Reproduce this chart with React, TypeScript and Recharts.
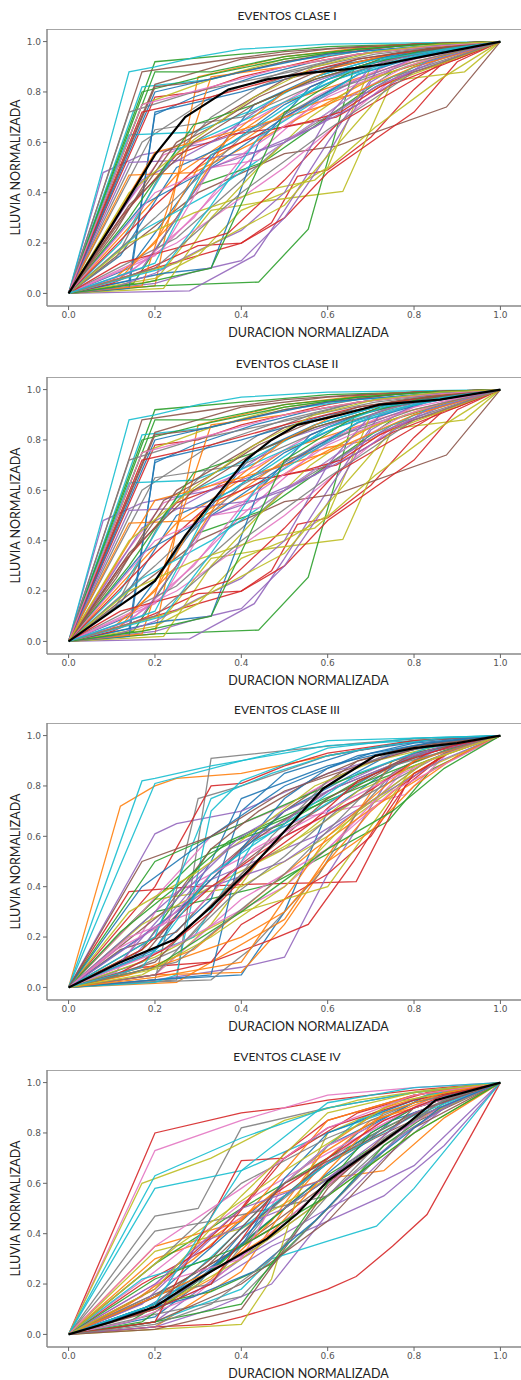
import { LineChart, Line, XAxis, YAxis, ReferenceLine } from 'recharts';

const ticks = [0, 0.2, 0.4, 0.6, 0.8, 1.0];
const tab10 = ['#1f77b4', '#ff7f0e', '#2ca02c', '#d62728', '#9467bd', '#8c564b', '#e377c2', '#7f7f7f', '#bcbd22', '#17becf'];

// cada evento: [duracion normalizada, lluvia normalizada]
const eventosClaseI: number[][][] = [
  [[0,0],[0.14,0.1],[0.29,0.45],[0.43,0.75],[0.57,0.86],[0.71,0.93],[0.86,0.97],[1,1]],
  [[0,0],[0.25,0.47],[0.5,0.76],[0.75,0.9],[1,1]],
  [[0,0],[0.2,0.92],[0.4,0.95],[0.6,0.98],[0.8,0.99],[1,1]],
  [[0,0],[0.2,0.1],[0.4,0.2],[0.47,0.28],[0.53,0.465],[0.6,0.49],[0.7,0.62],[0.8,0.81],[0.87,0.92],[1,1]],
  [[0,0],[0.08,0.48],[0.17,0.55],[0.33,0.6],[0.5,0.7],[0.67,0.85],[0.83,0.95],[1,1]],
  [[0,0],[0.17,0.88],[0.33,0.92],[0.5,0.96],[0.67,0.98],[0.83,0.99],[1,1]],
  [[0,0],[0.2,0.15],[0.4,0.5],[0.6,0.8],[0.8,0.95],[1,1]],
  [[0,0],[0.17,0.6],[0.33,0.78],[0.5,0.88],[0.67,0.95],[0.83,0.98],[1,1]],
  [[0,0],[0.2,0.05],[0.33,0.33],[0.47,0.37],[0.635,0.405],[0.75,0.845],[0.917,0.88],[1,1]],
  [[0,0],[0.14,0.88],[0.2,0.9],[0.3,0.94],[0.4,0.97],[0.6,0.99],[1,1]],

  [[0,0],[0.12,0.15],[0.25,0.5],[0.38,0.6],[0.5,0.75],[0.62,0.85],[0.75,0.93],[0.88,0.97],[1,1]],
  [[0,0],[0.2,0.03],[0.3,0.86],[0.4,0.9],[0.5,0.94],[0.6,0.96],[0.7,0.98],[0.8,0.99],[1,1]],
  [[0,0],[0.2,0.03],[0.44,0.045],[0.555,0.255],[0.66,0.89],[0.75,0.95],[0.87,0.98],[1,1]],
  [[0,0],[0.2,0.78],[0.3,0.8],[0.4,0.86],[0.5,0.9],[0.6,0.94],[0.7,0.97],[0.8,0.99],[1,1]],
  [[0,0],[0.28,0.01],[0.43,0.15],[0.5,0.33],[0.6,0.6],[0.72,0.9],[0.86,0.97],[1,1]],
  [[0,0],[0.15,0.2],[0.3,0.4],[0.5,0.555],[0.62,0.585],[0.875,0.74],[1,1]],
  [[0,0],[0.11,0.3],[0.22,0.55],[0.33,0.62],[0.44,0.7],[0.56,0.82],[0.67,0.9],[0.78,0.95],[0.89,0.98],[1,1]],
  [[0,0],[0.2,0.65],[0.4,0.7],[0.6,0.85],[0.8,0.95],[1,1]],
  [[0,0],[0.17,0.75],[0.33,0.85],[0.5,0.93],[0.67,0.97],[0.83,0.99],[1,1]],
  [[0,0],[0.17,0.82],[0.33,0.85],[0.5,0.92],[0.67,0.96],[0.83,0.98],[1,1]],

  [[0,0],[0.14,0.05],[0.2,0.71],[0.29,0.78],[0.43,0.86],[0.57,0.92],[0.71,0.96],[0.86,0.98],[1,1]],
  [[0,0],[0.1,0.05],[0.2,0.2],[0.3,0.5],[0.4,0.6],[0.5,0.72],[0.6,0.77],[0.7,0.8],[0.8,0.9],[0.9,0.95],[1,1]],
  [[0,0],[0.15,0.04],[0.3,0.43],[0.45,0.52],[0.6,0.7],[0.75,0.88],[0.9,0.96],[1,1]],
  [[0,0],[0.12,0.3],[0.25,0.55],[0.37,0.63],[0.5,0.66],[0.62,0.7],[0.75,0.83],[0.87,0.91],[1,1]],
  [[0,0],[0.17,0.45],[0.33,0.6],[0.5,0.8],[0.67,0.9],[0.83,0.96],[1,1]],
  [[0,0],[0.2,0.83],[0.4,0.93],[0.6,0.97],[0.8,0.99],[1,1]],
  [[0,0],[0.14,0.08],[0.29,0.3],[0.43,0.6],[0.57,0.78],[0.71,0.9],[0.86,0.96],[1,1]],
  [[0,0],[0.25,0.22],[0.5,0.6],[0.75,0.86],[1,1]],
  [[0,0],[0.2,0.06],[0.3,0.15],[0.4,0.33],[0.5,0.4],[0.6,0.5],[0.7,0.9],[0.8,0.96],[0.9,0.98],[1,1]],
  [[0,0],[0.14,0.63],[0.29,0.64],[0.43,0.73],[0.57,0.86],[0.71,0.93],[0.86,0.97],[1,1]],

  [[0,0],[0.22,0.08],[0.33,0.1],[0.44,0.6],[0.56,0.82],[0.67,0.9],[0.78,0.95],[0.89,0.98],[1,1]],
  [[0,0],[0.14,0.47],[0.29,0.48],[0.43,0.6],[0.57,0.73],[0.71,0.86],[0.86,0.94],[1,1]],
  [[0,0],[0.17,0.8],[0.33,0.87],[0.5,0.93],[0.67,0.97],[0.83,0.99],[1,1]],
  [[0,0],[0.1,0.04],[0.2,0.11],[0.3,0.19],[0.4,0.2],[0.5,0.3],[0.6,0.48],[0.7,0.6],[0.8,0.72],[0.9,0.92],[1,1]],
  [[0,0],[0.2,0.04],[0.3,0.09],[0.4,0.13],[0.5,0.3],[0.6,0.55],[0.7,0.84],[0.8,0.94],[0.9,0.98],[1,1]],
  [[0,0],[0.2,0.82],[0.3,0.84],[0.4,0.88],[0.5,0.92],[0.6,0.95],[0.7,0.97],[0.8,0.99],[1,1]],
  [[0,0],[0.25,0.2],[0.5,0.5],[0.75,0.85],[1,1]],
  [[0,0],[0.11,0.14],[0.22,0.5],[0.33,0.7],[0.44,0.82],[0.56,0.9],[0.67,0.95],[0.78,0.97],[0.89,0.99],[1,1]],
  [[0,0],[0.22,0.02],[0.33,0.3],[0.44,0.5],[0.56,0.7],[0.67,0.83],[0.78,0.9],[0.89,0.96],[1,1]],
  [[0,0],[0.17,0.25],[0.33,0.4],[0.5,0.6],[0.67,0.8],[0.83,0.92],[1,1]],

  [[0,0],[0.14,0.02],[0.2,0.72],[0.4,0.8],[0.6,0.9],[0.8,0.96],[1,1]],
  [[0,0],[0.17,0.03],[0.33,0.86],[0.5,0.9],[0.67,0.95],[0.83,0.98],[1,1]],
  [[0,0],[0.2,0.88],[0.33,0.88],[0.5,0.94],[0.67,0.97],[0.83,0.99],[1,1]],
  [[0,0],[0.12,0.12],[0.25,0.18],[0.37,0.24],[0.5,0.45],[0.62,0.67],[0.75,0.8],[0.87,0.92],[1,1]],
  [[0,0],[0.14,0.52],[0.29,0.53],[0.43,0.56],[0.57,0.66],[0.71,0.82],[0.86,0.93],[1,1]],
  [[0,0],[0.25,0.6],[0.5,0.85],[0.75,0.95],[1,1]],
  [[0,0],[0.11,0.05],[0.22,0.18],[0.33,0.5],[0.44,0.53],[0.56,0.67],[0.67,0.8],[0.78,0.9],[0.89,0.96],[1,1]],
  [[0,0],[0.2,0.3],[0.4,0.62],[0.6,0.8],[0.8,0.92],[1,1]],
  [[0,0],[0.14,0.2],[0.29,0.32],[0.43,0.4],[0.57,0.45],[0.71,0.66],[0.86,0.85],[1,1]],
  [[0,0],[0.12,0.2],[0.25,0.57],[0.37,0.66],[0.5,0.76],[0.62,0.85],[0.75,0.92],[0.87,0.97],[1,1]],

  [[0,0],[0.17,0.35],[0.33,0.5],[0.5,0.7],[0.67,0.87],[0.83,0.95],[1,1]],
  [[0,0],[0.2,0.56],[0.4,0.65],[0.6,0.75],[0.8,0.9],[1,1]],
  [[0,0],[0.14,0.3],[0.29,0.67],[0.43,0.75],[0.57,0.85],[0.71,0.92],[0.86,0.97],[1,1]],
  [[0,0],[0.2,0.35],[0.33,0.55],[0.47,0.65],[0.55,0.68],[0.63,0.72],[0.72,0.82],[0.8,0.88],[0.9,0.93],[1,1]],
  [[0,0],[0.1,0.02],[0.2,0.08],[0.3,0.17],[0.4,0.25],[0.5,0.4],[0.6,0.7],[0.7,0.9],[0.8,0.96],[0.9,0.99],[1,1]],
  [[0,0],[0.14,0.35],[0.29,0.6],[0.43,0.75],[0.57,0.85],[0.71,0.92],[0.86,0.97],[1,1]],
  [[0,0],[0.2,0.4],[0.4,0.55],[0.6,0.78],[0.8,0.93],[1,1]],
  [[0,0],[0.14,0.72],[0.29,0.8],[0.43,0.85],[0.57,0.9],[0.71,0.95],[0.86,0.98],[1,1]],
  [[0,0],[0.25,0.12],[0.5,0.35],[0.75,0.84],[1,1]],
  [[0,0],[0.22,0.1],[0.33,0.35],[0.44,0.62],[0.56,0.75],[0.67,0.87],[0.78,0.93],[0.89,0.97],[1,1]],

  [[0,0],[0.2,0.8],[0.4,0.88],[0.6,0.95],[0.8,0.98],[1,1]],
  [[0,0],[0.12,0.06],[0.25,0.3],[0.37,0.62],[0.5,0.8],[0.62,0.9],[0.75,0.95],[0.87,0.98],[1,1]],
  [[0,0],[0.17,0.04],[0.33,0.1],[0.5,0.72],[0.67,0.9],[0.83,0.97],[1,1]],
  [[0,0],[0.17,0.72],[0.33,0.78],[0.5,0.86],[0.67,0.93],[0.83,0.97],[1,1]],
  [[0,0],[0.17,0.1],[0.33,0.5],[0.5,0.6],[0.67,0.75],[0.83,0.92],[1,1]],
  [[0,0],[0.11,0.25],[0.22,0.56],[0.33,0.66],[0.44,0.78],[0.56,0.87],[0.67,0.93],[0.78,0.96],[0.89,0.98],[1,1]],
  [[0,0],[0.17,0.75],[0.33,0.82],[0.5,0.9],[0.67,0.95],[0.83,0.98],[1,1]],
  [[0,0],[0.2,0.1],[0.4,0.4],[0.6,0.65],[0.8,0.88],[1,1]],
  [[0,0],[0.14,0.4],[0.29,0.61],[0.43,0.78],[0.57,0.9],[0.71,0.96],[0.86,0.99],[1,1]],
  [[0,0],[0.2,0.12],[0.33,0.55],[0.47,0.7],[0.6,0.85],[0.73,0.93],[0.87,0.97],[1,1]],
];

// la figura de clase II repite las mismas curvas individuales
const eventosClaseII = eventosClaseI;

const eventosClaseIII: number[][][] = [
  [[0,0],[0.2,0.03],[0.4,0.05],[0.5,0.3],[0.6,0.7],[0.8,0.93],[1,1]],
  [[0,0],[0.12,0.72],[0.2,0.8],[0.25,0.83],[0.4,0.85],[0.6,0.92],[0.8,0.98],[1,1]],
  [[0,0],[0.2,0.3],[0.4,0.38],[0.47,0.41],[0.74,0.66],[0.84,0.865],[1,1]],
  [[0,0],[0.14,0.38],[0.29,0.4],[0.43,0.41],[0.57,0.415],[0.666,0.42],[0.78,0.8],[0.89,0.95],[1,1]],
  [[0,0],[0.2,0.03],[0.4,0.08],[0.5,0.12],[0.6,0.45],[0.75,0.85],[0.87,0.96],[1,1]],
  [[0,0],[0.17,0.12],[0.33,0.45],[0.5,0.7],[0.67,0.9],[0.83,0.97],[1,1]],
  [[0,0],[0.11,0.06],[0.22,0.35],[0.33,0.45],[0.44,0.6],[0.56,0.68],[0.67,0.72],[0.78,0.766],[0.89,0.95],[1,1]],
  [[0,0],[0.17,0.02],[0.25,0.03],[0.33,0.91],[0.5,0.94],[0.67,0.97],[0.83,0.99],[1,1]],
  [[0,0],[0.2,0.35],[0.4,0.4],[0.6,0.6],[0.8,0.85],[1,1]],
  [[0,0],[0.17,0.82],[0.2,0.83],[0.33,0.88],[0.5,0.93],[0.6,0.96],[0.8,0.98],[1,1]],

  [[0,0],[0.17,0.1],[0.33,0.35],[0.4,0.7],[0.5,0.85],[0.67,0.94],[0.83,0.98],[1,1]],
  [[0,0],[0.2,0.05],[0.4,0.06],[0.5,0.25],[0.6,0.5],[0.7,0.7],[0.8,0.85],[0.9,0.95],[1,1]],
  [[0,0],[0.14,0.25],[0.29,0.5],[0.43,0.62],[0.57,0.72],[0.71,0.82],[0.86,0.92],[1,1]],
  [[0,0],[0.17,0.08],[0.33,0.1],[0.47,0.19],[0.555,0.25],[0.66,0.5],[0.77,0.8],[0.88,0.94],[1,1]],
  [[0,0],[0.2,0.61],[0.25,0.65],[0.4,0.7],[0.6,0.85],[0.8,0.95],[1,1]],
  [[0,0],[0.2,0.2],[0.4,0.55],[0.6,0.78],[0.8,0.92],[1,1]],
  [[0,0],[0.17,0.3],[0.33,0.6],[0.5,0.72],[0.67,0.88],[0.83,0.96],[1,1]],
  [[0,0],[0.2,0.03],[0.3,0.75],[0.4,0.8],[0.6,0.92],[0.8,0.98],[1,1]],
  [[0,0],[0.22,0.08],[0.33,0.25],[0.44,0.5],[0.56,0.62],[0.67,0.75],[0.78,0.88],[0.89,0.95],[1,1]],
  [[0,0],[0.2,0.81],[0.4,0.9],[0.6,0.98],[0.8,0.99],[1,1]],

  [[0,0],[0.2,0.15],[0.33,0.5],[0.4,0.75],[0.6,0.88],[0.8,0.96],[1,1]],
  [[0,0],[0.25,0.02],[0.5,0.27],[0.75,0.9],[1,1]],
  [[0,0],[0.17,0.15],[0.33,0.55],[0.5,0.65],[0.67,0.82],[0.83,0.94],[1,1]],
  [[0,0],[0.2,0.4],[0.33,0.8],[0.4,0.81],[0.5,0.88],[0.6,0.93],[0.8,0.98],[1,1]],
  [[0,0],[0.14,0.1],[0.29,0.4],[0.43,0.5],[0.57,0.6],[0.71,0.75],[0.86,0.9],[1,1]],
  [[0,0],[0.12,0.15],[0.25,0.22],[0.37,0.45],[0.5,0.62],[0.62,0.75],[0.75,0.88],[0.87,0.96],[1,1]],
  [[0,0],[0.2,0.05],[0.4,0.35],[0.6,0.55],[0.8,0.9],[1,1]],
  [[0,0],[0.17,0.02],[0.33,0.03],[0.42,0.15],[0.5,0.3],[0.58,0.45],[0.67,0.7],[0.75,0.85],[0.83,0.93],[1,1]],
  [[0,0],[0.17,0.25],[0.33,0.4],[0.5,0.55],[0.67,0.78],[0.83,0.9],[1,1]],
  [[0,0],[0.2,0.02],[0.25,0.05],[0.33,0.7],[0.4,0.82],[0.6,0.95],[0.8,0.99],[1,1]],

  [[0,0],[0.25,0.3],[0.5,0.7],[0.75,0.93],[1,1]],
  [[0,0],[0.14,0.05],[0.29,0.15],[0.43,0.35],[0.57,0.55],[0.71,0.72],[0.86,0.88],[1,1]],
  [[0,0],[0.2,0.5],[0.4,0.65],[0.6,0.8],[0.8,0.93],[1,1]],
  [[0,0],[0.2,0.05],[0.33,0.1],[0.4,0.25],[0.5,0.35],[0.6,0.45],[0.7,0.6],[0.8,0.85],[0.9,0.95],[1,1]],
  [[0,0],[0.17,0.2],[0.33,0.4],[0.5,0.5],[0.67,0.7],[0.83,0.9],[1,1]],
  [[0,0],[0.22,0.3],[0.33,0.55],[0.44,0.7],[0.56,0.82],[0.67,0.9],[0.78,0.95],[0.89,0.98],[1,1]],
  [[0,0],[0.11,0.15],[0.22,0.25],[0.33,0.45],[0.44,0.55],[0.56,0.65],[0.67,0.75],[0.78,0.88],[0.89,0.95],[1,1]],
  [[0,0],[0.12,0.05],[0.25,0.15],[0.37,0.35],[0.5,0.52],[0.62,0.7],[0.75,0.82],[0.87,0.93],[1,1]],
  [[0,0],[0.2,0.12],[0.4,0.3],[0.6,0.4],[0.8,0.88],[1,1]],
  [[0,0],[0.14,0.1],[0.29,0.2],[0.43,0.58],[0.57,0.7],[0.71,0.85],[0.86,0.95],[1,1]],

  [[0,0],[0.33,0.05],[0.4,0.55],[0.5,0.75],[0.6,0.87],[0.7,0.93],[0.8,0.97],[1,1]],
  [[0,0],[0.2,0.08],[0.4,0.2],[0.5,0.3],[0.6,0.5],[0.7,0.62],[0.8,0.8],[0.9,0.92],[1,1]],
  [[0,0],[0.12,0.22],[0.25,0.4],[0.37,0.58],[0.5,0.68],[0.62,0.77],[0.75,0.86],[0.87,0.94],[1,1]],
  [[0,0],[0.17,0.15],[0.33,0.4],[0.5,0.6],[0.67,0.75],[0.83,0.93],[1,1]],
  [[0,0],[0.2,0.3],[0.3,0.45],[0.4,0.6],[0.5,0.7],[0.6,0.78],[0.7,0.85],[0.8,0.92],[0.9,0.96],[1,1]],
  [[0,0],[0.2,0.1],[0.4,0.45],[0.6,0.75],[0.8,0.93],[1,1]],
  [[0,0],[0.25,0.17],[0.5,0.4],[0.75,0.78],[1,1]],
  [[0,0],[0.2,0.05],[0.33,0.3],[0.47,0.6],[0.6,0.82],[0.73,0.92],[0.87,0.97],[1,1]],
  [[0,0],[0.14,0.3],[0.29,0.45],[0.43,0.62],[0.57,0.8],[0.71,0.9],[0.86,0.96],[1,1]],
  [[0,0],[0.2,0.2],[0.33,0.75],[0.47,0.85],[0.6,0.92],[0.73,0.96],[0.87,0.99],[1,1]],

  [[0,0],[0.17,0.4],[0.33,0.6],[0.5,0.8],[0.67,0.92],[0.83,0.97],[1,1]],
  [[0,0],[0.2,0.04],[0.4,0.1],[0.6,0.6],[0.8,0.9],[1,1]],
  [[0,0],[0.2,0.08],[0.4,0.3],[0.6,0.55],[0.75,0.7],[0.87,0.87],[1,1]],
  [[0,0],[0.11,0.05],[0.22,0.15],[0.33,0.3],[0.44,0.5],[0.56,0.65],[0.67,0.82],[0.78,0.9],[0.89,0.96],[1,1]],
  [[0,0],[0.12,0.1],[0.25,0.35],[0.37,0.55],[0.5,0.66],[0.62,0.8],[0.75,0.9],[0.87,0.96],[1,1]],
  [[0,0],[0.17,0.5],[0.33,0.6],[0.5,0.78],[0.67,0.88],[0.83,0.96],[1,1]],
  [[0,0],[0.14,0.2],[0.29,0.3],[0.43,0.55],[0.57,0.68],[0.71,0.8],[0.86,0.92],[1,1]],
  [[0,0],[0.25,0.1],[0.5,0.45],[0.75,0.88],[1,1]],
  [[0,0],[0.17,0.05],[0.33,0.2],[0.5,0.4],[0.67,0.7],[0.83,0.9],[1,1]],
  [[0,0],[0.17,0.08],[0.33,0.45],[0.5,0.65],[0.67,0.85],[0.83,0.95],[1,1]],
];

const eventosClaseIV: number[][][] = [
  [[0,0],[0.2,0.15],[0.4,0.45],[0.6,0.75],[0.8,0.92],[1,1]],
  [[0,0],[0.2,0.3],[0.33,0.38],[0.47,0.55],[0.6,0.62],[0.73,0.65],[0.87,0.86],[1,1]],
  [[0,0],[0.2,0.28],[0.4,0.5],[0.6,0.7],[0.8,0.88],[1,1]],
  [[0,0],[0.2,0.8],[0.4,0.88],[0.5,0.9],[0.6,0.93],[0.8,0.97],[1,1]],
  [[0,0],[0.2,0.1],[0.33,0.2],[0.47,0.35],[0.6,0.45],[0.73,0.55],[0.87,0.75],[1,1]],
  [[0,0],[0.2,0.15],[0.4,0.35],[0.6,0.6],[0.8,0.85],[1,1]],
  [[0,0],[0.2,0.73],[0.4,0.85],[0.6,0.95],[0.8,0.98],[1,1]],
  [[0,0],[0.2,0.47],[0.3,0.5],[0.4,0.82],[0.6,0.9],[0.8,0.96],[1,1]],
  [[0,0],[0.17,0.6],[0.33,0.7],[0.5,0.85],[0.67,0.93],[0.83,0.97],[1,1]],
  [[0,0],[0.2,0.63],[0.4,0.78],[0.6,0.9],[0.8,0.96],[1,1]],

  [[0,0],[0.17,0.1],[0.33,0.25],[0.5,0.55],[0.67,0.8],[0.83,0.95],[1,1]],
  [[0,0],[0.2,0.03],[0.4,0.25],[0.5,0.5],[0.6,0.7],[0.7,0.85],[0.8,0.9],[1,1]],
  [[0,0],[0.14,0.05],[0.29,0.2],[0.43,0.4],[0.57,0.6],[0.71,0.75],[0.86,0.92],[1,1]],
  [[0,0],[0.2,0.03],[0.33,0.04],[0.4,0.07],[0.5,0.12],[0.6,0.18],[0.666,0.23],[0.75,0.35],[0.83,0.476],[1,1]],
  [[0,0],[0.2,0.05],[0.4,0.3],[0.6,0.5],[0.8,0.67],[1,1]],
  [[0,0],[0.25,0.2],[0.5,0.45],[0.75,0.8],[1,1]],
  [[0,0],[0.17,0.15],[0.33,0.4],[0.5,0.55],[0.67,0.78],[0.83,0.93],[1,1]],
  [[0,0],[0.2,0.41],[0.33,0.45],[0.47,0.5],[0.6,0.55],[0.73,0.75],[0.87,0.9],[1,1]],
  [[0,0],[0.2,0.02],[0.4,0.04],[0.47,0.22],[0.53,0.55],[0.6,0.8],[0.8,0.95],[1,1]],
  [[0,0],[0.2,0.58],[0.4,0.65],[0.6,0.8],[0.8,0.92],[1,1]],

  [[0,0],[0.2,0.07],[0.3,0.2],[0.4,0.4],[0.5,0.55],[0.6,0.68],[0.7,0.8],[0.8,0.9],[0.9,0.96],[1,1]],
  [[0,0],[0.14,0.12],[0.29,0.3],[0.43,0.5],[0.57,0.7],[0.71,0.85],[0.86,0.95],[1,1]],
  [[0,0],[0.2,0.12],[0.33,0.17],[0.47,0.28],[0.6,0.5],[0.73,0.75],[0.87,0.92],[1,1]],
  [[0,0],[0.17,0.2],[0.33,0.35],[0.5,0.7],[0.67,0.88],[0.83,0.96],[1,1]],
  [[0,0],[0.2,0.03],[0.33,0.1],[0.47,0.2],[0.6,0.48],[0.73,0.7],[0.87,0.9],[1,1]],
  [[0,0],[0.14,0.1],[0.29,0.22],[0.43,0.45],[0.57,0.65],[0.71,0.78],[0.86,0.9],[1,1]],
  [[0,0],[0.2,0.25],[0.4,0.52],[0.6,0.72],[0.8,0.9],[1,1]],
  [[0,0],[0.2,0.08],[0.4,0.15],[0.6,0.5],[0.8,0.85],[1,1]],
  [[0,0],[0.2,0.33],[0.4,0.42],[0.6,0.62],[0.8,0.85],[1,1]],
  [[0,0],[0.2,0.05],[0.4,0.18],[0.47,0.3],[0.6,0.37],[0.713,0.43],[0.8,0.58],[1,1]],

  [[0,0],[0.25,0.15],[0.5,0.5],[0.75,0.85],[1,1]],
  [[0,0],[0.2,0.1],[0.33,0.22],[0.47,0.45],[0.6,0.75],[0.73,0.9],[0.87,0.97],[1,1]],
  [[0,0],[0.17,0.05],[0.33,0.25],[0.5,0.5],[0.67,0.7],[0.83,0.88],[1,1]],
  [[0,0],[0.2,0.18],[0.4,0.5],[0.5,0.72],[0.6,0.85],[0.8,0.95],[1,1]],
  [[0,0],[0.11,0.06],[0.22,0.12],[0.33,0.25],[0.44,0.35],[0.56,0.5],[0.67,0.65],[0.78,0.8],[0.89,0.92],[1,1]],
  [[0,0],[0.2,0.05],[0.4,0.2],[0.6,0.45],[0.8,0.82],[1,1]],
  [[0,0],[0.14,0.05],[0.29,0.15],[0.43,0.35],[0.57,0.55],[0.71,0.75],[0.86,0.9],[1,1]],
  [[0,0],[0.2,0.16],[0.33,0.2],[0.47,0.5],[0.6,0.68],[0.73,0.82],[0.87,0.93],[1,1]],
  [[0,0],[0.2,0.1],[0.4,0.3],[0.6,0.55],[0.8,0.8],[1,1]],
  [[0,0],[0.17,0.22],[0.33,0.3],[0.5,0.6],[0.67,0.85],[0.83,0.95],[1,1]],

  [[0,0],[0.2,0.12],[0.4,0.35],[0.5,0.62],[0.6,0.8],[0.8,0.93],[1,1]],
  [[0,0],[0.2,0.35],[0.4,0.45],[0.6,0.85],[0.8,0.95],[1,1]],
  [[0,0],[0.2,0.05],[0.4,0.12],[0.5,0.35],[0.6,0.6],[0.7,0.8],[0.8,0.9],[1,1]],
  [[0,0],[0.2,0.05],[0.4,0.69],[0.5,0.7],[0.6,0.82],[0.8,0.93],[1,1]],
  [[0,0],[0.17,0.12],[0.33,0.38],[0.5,0.5],[0.67,0.7],[0.83,0.88],[1,1]],
  [[0,0],[0.2,0.02],[0.4,0.1],[0.6,0.58],[0.8,0.9],[1,1]],
  [[0,0],[0.2,0.2],[0.4,0.3],[0.5,0.6],[0.6,0.75],[0.8,0.9],[1,1]],
  [[0,0],[0.2,0.28],[0.4,0.6],[0.6,0.78],[0.8,0.92],[1,1]],
  [[0,0],[0.25,0.35],[0.5,0.65],[0.75,0.92],[1,1]],
  [[0,0],[0.2,0.1],[0.4,0.42],[0.6,0.68],[0.8,0.87],[1,1]],

  [[0,0],[0.14,0.08],[0.29,0.15],[0.43,0.25],[0.57,0.45],[0.71,0.7],[0.86,0.9],[1,1]],
  [[0,0],[0.2,0.15],[0.33,0.25],[0.47,0.4],[0.6,0.65],[0.73,0.88],[0.87,0.96],[1,1]],
  [[0,0],[0.2,0.22],[0.4,0.35],[0.6,0.55],[0.8,0.8],[1,1]],
  [[0,0],[0.2,0.1],[0.33,0.2],[0.47,0.55],[0.6,0.7],[0.73,0.85],[0.87,0.95],[1,1]],
  [[0,0],[0.2,0.2],[0.4,0.5],[0.6,0.62],[0.8,0.88],[1,1]],
  [[0,0],[0.17,0.08],[0.33,0.3],[0.5,0.6],[0.67,0.75],[0.83,0.9],[1,1]],
  [[0,0],[0.2,0.35],[0.4,0.58],[0.6,0.82],[0.8,0.95],[1,1]],
  [[0,0],[0.2,0.04],[0.33,0.12],[0.47,0.3],[0.6,0.55],[0.73,0.78],[0.87,0.93],[1,1]],
  [[0,0],[0.2,0.18],[0.4,0.55],[0.6,0.88],[0.8,0.96],[1,1]],
  [[0,0],[0.2,0.12],[0.4,0.65],[0.6,0.92],[0.8,0.98],[1,1]],
];

// curvas medias (negro)
const mediaClaseI = [[0,0],[0.1,0.27],[0.2,0.55],[0.27,0.7],[0.37,0.81],[0.46,0.85],[0.55,0.875],[0.64,0.89],[0.73,0.91],[0.82,0.94],[0.91,0.97],[1,1]];
const mediaClaseII = [[0,0],[0.15,0.18],[0.2,0.24],[0.27,0.42],[0.33,0.55],[0.41,0.72],[0.47,0.8],[0.53,0.86],[0.63,0.9],[0.72,0.94],[0.86,0.96],[1,1]];
const mediaClaseIII = [[0,0],[0.12,0.1],[0.245,0.19],[0.33,0.32],[0.42,0.47],[0.5,0.62],[0.59,0.79],[0.71,0.92],[0.8,0.95],[0.9,0.97],[1,1]];
const mediaClaseIV = [[0,0],[0.1,0.05],[0.2,0.11],[0.3,0.22],[0.4,0.32],[0.46,0.38],[0.53,0.48],[0.6,0.61],[0.7,0.73],[0.78,0.83],[0.85,0.93],[1,1]];

const titulos = ['EVENTOS CLASE I', 'EVENTOS CLASE II', 'EVENTOS CLASE III', 'EVENTOS CLASE IV'];
const eventosPorClase = [eventosClaseI, eventosClaseII, eventosClaseIII, eventosClaseIV];
const mediasPorClase = [mediaClaseI, mediaClaseII, mediaClaseIII, mediaClaseIV];

// posicion vertical del borde superior de cada caja de ejes
const topCajas = [29, 377, 723, 1070];

const toPoints = (ev: number[][]) => ev.map(([x, y]) => ({ x, y }));
const labelFont = 'Lato, "Open Sans", sans-serif';

const Panel = ({ titulo, eventos, media, top }: { titulo: string; eventos: number[][][]; media: number[][]; top: number }) => (
  <div style={{ position: 'absolute', left: 0, top: top - 29, width: 521, height: 345 }}>
    <div
      style={{
        position: 'absolute', top: 8, left: 187, width: 200, textAlign: 'center',
        fontFamily: labelFont, fontSize: 12, lineHeight: '16px', color: '#222',
      }}
    >
      {titulo}
    </div>
    <div style={{ position: 'absolute', top: 29, left: 0 }}>
      <LineChart width={530} height={311} margin={{ top: 0, right: 8, left: 0, bottom: 0 }}>
        <XAxis
          type="number"
          dataKey="x"
          domain={[-0.05, 1.05]}
          ticks={ticks}
          height={34}
          tickSize={4}
          tickFormatter={(v: number) => v.toFixed(1)}
          tick={{ fill: '#555', fontSize: 9, fontFamily: 'DejaVu Sans' }}
          axisLine={{ stroke: '#888', strokeWidth: 1.5 }}
          tickLine={{ stroke: '#666' }}
          label={{ value: 'DURACION NORMALIZADA', position: 'insideBottom', offset: 3, dx: 24, style: { fill: '#222', fontSize: 12.5, fontFamily: labelFont } }}
        />
        <YAxis
          type="number"
          domain={[-0.05, 1.05]}
          ticks={ticks}
          width={47}
          tickSize={4}
          allowDataOverflow
          tickFormatter={(v: number) => v.toFixed(1)}
          tick={{ fill: '#555', fontSize: 9, fontFamily: 'DejaVu Sans' }}
          axisLine={{ stroke: '#888', strokeWidth: 1.5 }}
          tickLine={{ stroke: '#666' }}
          label={{ value: 'LLUVIA NORMALIZADA', angle: -90, position: 'insideLeft', offset: 16, style: { textAnchor: 'middle', fill: '#222', fontSize: 12.5, fontFamily: labelFont } }}
        />
        <ReferenceLine y={1.05} stroke="#888" strokeWidth={1.5} />
        {eventos.map((ev, i) => (
          <Line
            key={i}
            data={toPoints(ev)}
            dataKey="y"
            type="linear"
            stroke={tab10[i % 10]}
            strokeWidth={1.3}
            strokeOpacity={0.9}
            dot={false}
            activeDot={false}
            isAnimationActive={false}
          />
        ))}
        <Line
          data={toPoints(media)}
          dataKey="y"
          type="linear"
          stroke="#000"
          strokeWidth={2.2}
          dot={false}
          activeDot={false}
          isAnimationActive={false}
        />
      </LineChart>
    </div>
  </div>
);

export default function App() {
  return (
    <div style={{ position: 'relative', width: 521, height: 1380, overflow: 'hidden', background: '#fff' }}>
      <style>{'body{margin:0}'}</style>
      {titulos.map((t, i) => (
        <Panel key={t} titulo={t} eventos={eventosPorClase[i]} media={mediasPorClase[i]} top={topCajas[i]} />
      ))}
    </div>
  );
}
